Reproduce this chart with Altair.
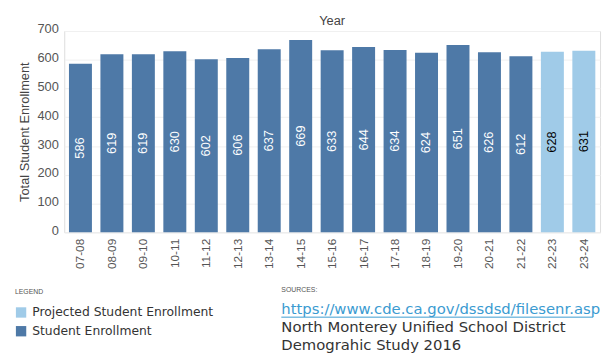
import altair as alt
import pandas as pd

years = ["07-08", "08-09", "09-10", "10-11", "11-12", "12-13", "13-14", "14-15",
         "15-16", "16-17", "17-18", "18-19", "19-20", "20-21", "21-22", "22-23", "23-24"]
enrollment = [586, 619, 619, 630, 602, 606, 637, 669, 633, 644, 634, 624, 651, 626, 612, 628, 631]
kinds = ["Student Enrollment"] * 15 + ["Projected Student Enrollment"] * 2

y_ticks = [0, 100, 200, 300, 400, 500, 600, 700]

legend_order = ["Projected Student Enrollment", "Student Enrollment"]
legend_colors = ["#a0cbe8", "#4e79a7"]

source_lines = ["SOURCES:", "https://www.cde.ca.gov/dssdsd/filesenr.asp",
                "North Monterey Unified School District", "Demograhic Study 2016"]

df = pd.DataFrame({"Year": years, "Enrollment": enrollment, "Kind": kinds})

FONT = "Liberation Sans"
NOTE_FONT = "DejaVu Sans"

x_axis = alt.Axis(labelAngle=270, labelFontSize=12, labelColor="#555555",
                  labelFont=FONT, ticks=False, domain=False, labelPadding=6)
x_scale = alt.Scale(paddingInner=0.27, paddingOuter=0.15)

y_axis = alt.Axis(values=y_ticks, labelFontSize=13,
                  labelColor="#555555", labelFont=FONT, titleFont=FONT,
                  titleFontSize=13, titleFontWeight="normal", titleColor="#444444",
                  ticks=False, domain=False, labelOffset=-2, labelPadding=6,
                  labelOverlap=False, gridColor="#f0f0f0", titlePadding=6)
y_scale = alt.Scale(domain=[0, 700], nice=False)

bars = alt.Chart(df).mark_bar().encode(
    x=alt.X("Year:N", sort=years, title=None, scale=x_scale, axis=x_axis),
    y=alt.Y("Enrollment:Q", title="Total Student Enrollment", scale=y_scale, axis=y_axis),
    color=alt.Color("Kind:N", scale=alt.Scale(domain=legend_order, range=legend_colors),
                    legend=alt.Legend(title="LEGEND", orient="none", legendX=-50, legendY=261,
                                      titleFontSize=7, titleFontWeight="normal", titleColor="#555555",
                                      titleFont=FONT, labelFont=NOTE_FONT, labelFontSize=12.5,
                                      labelColor="#333333", symbolType="square", symbolSize=110,
                                      symbolStrokeWidth=0, rowPadding=6, titlePadding=11,
                                      symbolOffset=0, labelOffset=5, labelLimit=0)),
)

labels = alt.Chart(df).transform_calculate(mid="datum.Enrollment / 2").mark_text(
    angle=270, fontSize=13, font=FONT, baseline="middle", align="center"
).encode(
    x=alt.X("Year:N", sort=years, title=None, scale=x_scale, axis=x_axis),
    y=alt.Y("mid:Q", title="Total Student Enrollment", scale=y_scale, axis=y_axis),
    text=alt.Text("Enrollment:Q"),
    color=alt.condition(alt.datum.Kind == "Student Enrollment", alt.value("white"), alt.value("black")),
)

src = pd.DataFrame({"line": source_lines, "row": [0, 1, 2, 3]})


def note(row, y, size, color, font):
    return alt.Chart(src[src.row == row]).mark_text(
        align="left", baseline="middle", fontSize=size, font=font, color=color
    ).encode(x=alt.value(220), y=alt.value(y), text="line:N")


sources_head = note(0, 263, 7, "#555555", FONT)
sources_url = note(1, 282, 15, "#3b9bd1", NOTE_FONT)
url_rule = alt.Chart(src[src.row == 1]).mark_rule(color="#3b9bd1", strokeWidth=1).encode(
    x=alt.value(220), x2=alt.value(536), y=alt.value(290))
line2 = note(2, 300, 15, "#333333", NOTE_FONT)
line3 = note(3, 318, 15, "#333333", NOTE_FONT)

chart = alt.layer(bars, labels, sources_head, sources_url, url_rule, line2, line3).properties(
    width=543, height=204,
    title=alt.TitleParams("Year", fontSize=13, font=FONT, fontWeight="normal", color="#444444",
                          anchor="middle", offset=-5),
    autosize=alt.AutoSizeParams(type="none"),
    padding={"left": 57, "top": 21, "right": 3, "bottom": 120},
).configure_view(strokeWidth=0).configure(background="white")

chart.save("out.html", embed_options={"renderer": "svg", "actions": False})
